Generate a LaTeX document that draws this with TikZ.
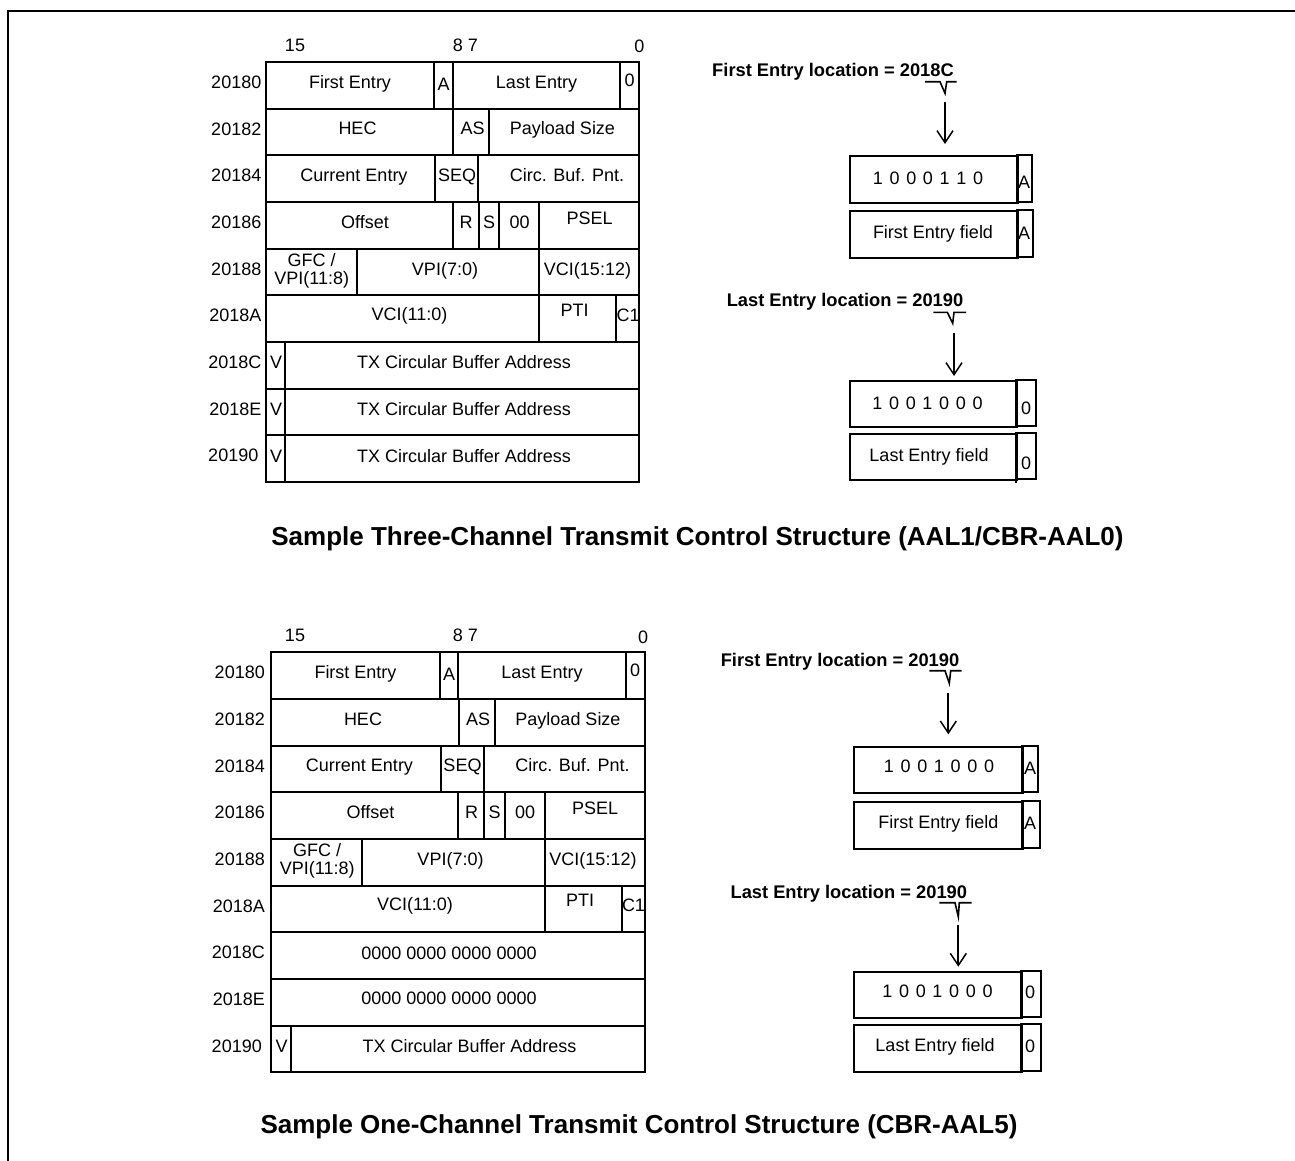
\documentclass[tikz,border=0pt]{standalone}
\usepackage{fontspec}
\setmainfont{Liberation Sans}
\usetikzlibrary{arrows.meta}
\newcommand\bgap{\hspace{6.7pt}}
\newcommand\commonrows[2]{%
  \draw[tbl] (265.7,62) rectangle (639.3,482);
  \foreach \yy in {108.67,155.33,202,248.67,295.33,342,388.67,435.33}
    {\draw[tbl] (265.7,\yy) -- (639.3,\yy);}
  \foreach \xx in {434,452.7,620} {\draw[tbl] (\xx,62) -- (\xx,108.67);}
  \foreach \xx in {453.3,489.3} {\draw[tbl] (\xx,108.67) -- (\xx,155.33);}
  \foreach \xx in {435.3,478.3} {\draw[tbl] (\xx,155.33) -- (\xx,202);}
  \foreach \xx in {452.7,478.7,499,539} {\draw[tbl] (\xx,202) -- (\xx,248.67);}
  \foreach \xx in {356.7,539} {\draw[tbl] (\xx,248.67) -- (\xx,295.33);}
  \foreach \xx in {539,616} {\draw[tbl] (\xx,295.33) -- (\xx,342);}
  % row 0
  \node[tx] (#1fe) at (350,88) {First Entry};
  \node[tx] (#1a) at (443.5,90) {A};
  \node[tx] (#1le) at (536.5,88) {Last Entry};
  \node[tx] (#1z) at (629.5,86.5) {0};
  % row 1
  \node[tx] (#1hec) at (357.5,134.7) {HEC};
  \node[tx] (#1as) at (472.5,134.7) {AS};
  \node[tx] (#1ps) at (562.5,134.7) {Payload Size};
  % row 2
  \node[tx] (#1ce) at (354,181.4) {Current Entry};
  \node[tx] (#1seq) at (457,181.4) {SEQ};
  \node[tx] (#1cbp) at (567,181.4) {Circ. Buf. Pnt.};
  % row 3
  \node[tx] (#1off) at (365,228) {Offset};
  \node[tx] (#1r) at (466,228) {R};
  \node[tx] (#1s) at (489,228) {S};
  \node[tx] (#1oo) at (519.7,228) {00};
  \node[tx] (#1psel) at (589.7,224.5) {PSEL};
  % row 4
  \node[tx] (#1gfc) at (311.7,266.4) {GFC /};
  \node[tx] (#1vpih) at (311.7,284) {VPI(11:8)};
  \node[tx] (#1vpil) at (445,275.4) {VPI(7:0)};
  \node[tx] (#1vcih) at (587.5,275.4) {VCI(15:12)};
  % row 5
  \node[tx] (#1vcil) at (409.5,320.4) {VCI(11:0)};
  \node[tx] (#1pti) at (574.5,316.4) {PTI};
  \node[tx] (#1cl) at (628,321.4) {C1};
  % row labels
  \node[lbl] (#1r0) at (#2,88.3) {20180};
  \node[lbl] (#1r1) at (#2,135) {20182};
  \node[lbl] (#1r2) at (#2,181.7) {20184};
  \node[lbl] (#1r3) at (#2,228.3) {20186};
  \node[lbl] (#1r4) at (#2,275) {20188};
  \node[lbl] (#1r5) at (#2,321.7) {2018A};
  \node[lbl] (#1r6) at (#2,368.3) {2018C};
  \node[lbl] (#1r7) at (#2,415) {2018E};
  \node[lbl] (#1r8) at ([xshift=-3pt]#2,461.7) {20190};
}
\begin{document}
\begin{tikzpicture}[x=1pt,y=-1pt,
  tx/.style={inner sep=0pt, anchor=base, font=\fontsize{18}{21}\selectfont},
  lbl/.style={tx, anchor=base east},
  boldlbl/.style={inner sep=0pt, anchor=base, font=\fontsize{18.3}{21}\selectfont\bfseries},
  ttl/.style={inner sep=0pt, anchor=base, font=\fontsize{26}{30}\selectfont\bfseries},
  tbl/.style={line width=2pt},
  boxnode/.style={draw, line width=2pt, inner sep=0pt, anchor=north west},
  arrw/.style={line width=1.8pt, -{Straight Barb[length=12pt,width=16pt,line width=1.5pt]}},
  brc/.style={line width=1.6pt},
]
\useasboundingbox (0,0) rectangle (1295,1160);
% frame
\draw[line width=2.3pt] (7.8,1162) -- (7.8,11.2) -- (1297,11.2);

% ===== top table =====
\node[tx] (tb15) at (295,51.4) {15};
\node[tx] (tb87) at (465.5,51.4) {8 7};
\node[tx] (tb0) at (639.3,52.4) {0};
\commonrows{t}{261.5}
\foreach \yy in {342,388.67,435.33} {\draw[tbl] (285,\yy) -- (285,\yy+46.67);}
\node[tx] (tv6) at (276,368) {V};
\node[tx] (tx6) at (464,368) {TX Circular Buffer Address};
\node[tx] (tv7) at (276,415.4) {V};
\node[tx] (tx7) at (464,415.4) {TX Circular Buffer Address};
\node[tx] (tv8) at (276,462.4) {V};
\node[tx] (tx8) at (464,462.4) {TX Circular Buffer Address};

% ===== top right =====
\node[boldlbl] (tfl) at (833,76.5) {First Entry location = 2018C};
\draw[brc] (925,81.7) -- (940,81.7) -- (945,93.3) -- (946.7,81.7) -- (956.7,81.7);
\coordinate (ta1) at (945,101.7);
\node[boxnode, minimum width=167.7pt, minimum height=46.7pt] (tb1) at (849,155) {};
\draw[tbl] (1016.7,155) rectangle (1032.3,201.7);
\node[tx] (tb1t) at (928,184.7) {1\bgap0\bgap0\bgap0\bgap1\bgap1\bgap0};
\node[tx] (tb1a) at (1024,188) {A};
\draw[arrw, shorten >=11pt] (ta1) -- (ta1 |- tb1.north);
\node[boxnode, minimum width=167.7pt, minimum height=46.7pt] (tb2) at (849,210) {};
\draw[tbl] (1016.7,210) rectangle (1033.3,256.7);
\node[tx] (tb2t) at (933,238) {First Entry field};
\node[tx] (tb2a) at (1024,239.5) {A};

\node[boldlbl] (tll) at (845,306.5) {Last Entry location = 20190};
\draw[brc] (933.3,312.3) -- (947.3,312.3) -- (952.7,323.3) -- (954,312.3) -- (966,312.3);
\coordinate (ta2) at (954,333.3);
\node[boxnode, minimum width=167pt, minimum height=46pt] (tb3) at (849,380) {};
\draw[tbl] (1016,380) rectangle (1036,426);
\node[tx] (tb3t) at (927.5,409) {1\bgap0\bgap0\bgap1\bgap0\bgap0\bgap0};
\node[tx] (tb3z) at (1026,414.4) {0};
\draw[arrw, shorten >=4pt] (ta2) -- (ta2 |- tb3.north);
\node[boxnode, minimum width=167pt, minimum height=46pt] (tb4) at (849,433.3) {};
\draw[tbl] (1016,433.3) rectangle (1036,479.3);
\draw[tbl] (1016,479.3) -- (1016,483);
\node[tx] (tb4t) at (929,461.4) {Last Entry field};
\node[tx] (tb4z) at (1026,469) {0};

\node[ttl] (title1) at (697.5,545) {Sample Three-Channel Transmit Control Structure (AAL1/CBR-AAL0)};

% ===== bottom table =====
\node[tx] (bb15) at (295,641.4) {15};
\node[tx] (bb87) at (465.5,641.4) {8 7};
\node[tx] (bb0) at (643,643) {0};
\begin{scope}[shift={(5.5,590.3)}]
\commonrows{b}{259.5}
\draw[tbl] (285,435.33) -- (285,482);
\node[tx] (bz6) at (443.5,368.8) {0000 0000 0000 0000};
\node[tx] (bz7) at (443.5,414.4) {0000 0000 0000 0000};
\node[tx] (bv8) at (276,462.4) {V};
\node[tx] (bx8) at (464,462.4) {TX Circular Buffer Address};
\end{scope}

% ===== bottom right =====
\node[boldlbl] (bfl) at (840,666.5) {First Entry location = 20190};
\draw[brc] (929.3,670.7) -- (945,670.7) -- (949.3,683.3) -- (950.7,670.7) -- (961.7,670.7);
\coordinate (ba1) at (948.3,693.3);
\node[boxnode, minimum width=169pt, minimum height=46.3pt] (bb1) at (853.3,746) {};
\draw[tbl] (1022.3,746) rectangle (1038.3,792.3);
\node[tx] (bb1t) at (939,772.4) {1\bgap0\bgap0\bgap1\bgap0\bgap0\bgap0};
\node[tx] (bb1a) at (1030,774.7) {A};
\draw[arrw, shorten >=11.7pt] (ba1) -- (ba1 |- bb1.north);
\node[boxnode, minimum width=169pt, minimum height=47.3pt] (bb2) at (853.3,801) {};
\draw[tbl] (1022.3,801) rectangle (1040,848.3);
\node[tx] (bb2t) at (938.3,828) {First Entry field};
\node[tx] (bb2a) at (1030,829.7) {A};

\node[boldlbl] (bll) at (848.8,898) {Last Entry location = 20190};
\draw[brc] (939.3,902.7) -- (955,902.7) -- (958.3,916.7) -- (959.3,902.7) -- (971.7,902.7);
\coordinate (ba2) at (958.3,925);
\node[boxnode, minimum width=167.4pt, minimum height=46.3pt] (bb3) at (853.3,971) {};
\draw[tbl] (1020.7,971) rectangle (1041,1017.3);
\node[tx] (bb3t) at (937.5,997) {1\bgap0\bgap0\bgap1\bgap0\bgap0\bgap0};
\node[tx] (bb3z) at (1030,998) {0};
\draw[arrw, shorten >=4.3pt] (ba2) -- (ba2 |- bb3.north);
\node[boxnode, minimum width=167.4pt, minimum height=46.7pt] (bb4) at (853.3,1024) {};
\draw[tbl] (1020.7,1024) rectangle (1041,1070.7);
\node[tx] (bb4t) at (935,1051.4) {Last Entry field};
\node[tx] (bb4z) at (1030,1052.4) {0};

\node[ttl] (title2) at (639,1133) {Sample One-Channel Transmit Control Structure (CBR-AAL5)};
\end{tikzpicture}
\end{document}
